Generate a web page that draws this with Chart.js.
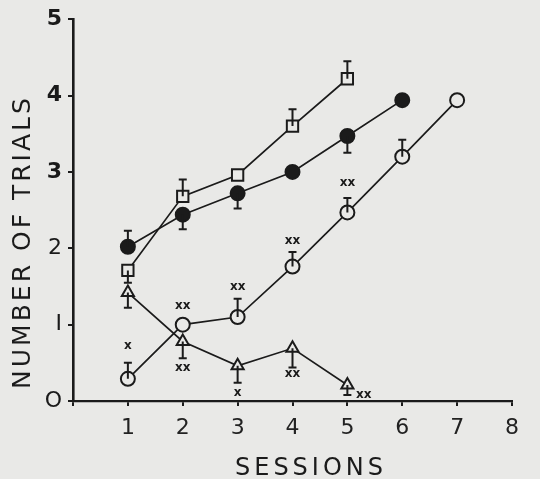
<!DOCTYPE html>
<html>
<head>
<meta charset="utf-8">
<script src="https://cdn.jsdelivr.net/npm/chart.js@4/dist/chart.umd.min.js"></script>
<style>
  html, body { margin: 0; padding: 0; background: #e9e9e7; }
  #wrap { width: 540px; height: 479px; }
</style>
</head>
<body>
<div id="wrap"><canvas id="chart" width="540" height="479"></canvas></div>
<script>
// sessions and means
const squareX = [1, 2, 3, 4, 5];
const squareY = [1.71, 2.68, 2.96, 3.6, 4.22];
const squareErr = [1.55, 2.9, null, 3.82, 4.45]; // tip of the one-sided error bar

const filledX = [1, 2, 3, 4, 5, 6];
const filledY = [2.02, 2.44, 2.72, 3.0, 3.47, 3.94];
const filledErr = [2.23, 2.25, 2.52, null, 3.25, null];

const openX = [1, 2, 3, 4, 5, 6, 7];
const openY = [0.29, 1.0, 1.1, 1.76, 2.47, 3.2, 3.94];
const openErr = [0.5, null, 1.34, 1.95, 2.66, 3.42, null];

const triX = [1, 2, 3, 4, 5];
const triY = [1.42, 0.78, 0.46, 0.69, 0.21];
const triErr = [1.22, 0.56, 0.24, 0.44, 0.08];

// significance marks
const sigX = [1, 2, 2, 3, 3, 4, 4, 5, 5.3];
const sigY = [0.72, 1.25, 0.44, 1.5, 0.11, 2.1, 0.36, 2.86, 0.08];
const sigText = ['x', 'xx', 'xx', 'xx', 'x', 'xx', 'xx', 'xx', 'xx'];

const xTicks = ['', '1', '2', '3', '4', '5', '6', '7', '8'];
const yTicks = ['O', 'I', '2', '3', '4', '5'];

const INK = '#1b1b1b';
const PAPER = '#e9e9e7';
const FONT = "'DejaVu Sans', sans-serif";

const pts = (xs, ys) => xs.map((x, i) => ({ x, y: ys[i] }));

function series(label, xs, ys, err, style, fill, radius) {
    return {
        label,
        data: pts(xs, ys),
        err,
        borderColor: INK,
        borderWidth: 1.7,
        pointStyle: style,
        pointRadius: radius,
        pointBorderWidth: 2,
        pointBorderColor: INK,
        pointBackgroundColor: fill,
        tension: 0,
        fill: false,
    };
}

/* one-sided error bars with a cap at the tip */
const errorBars = {
    id: 'errorBars',
    afterDatasetsDraw(chart) {
        const { ctx, scales: { x, y } } = chart;
        ctx.save();
        ctx.strokeStyle = INK;
        ctx.lineWidth = 2;
        chart.data.datasets.forEach((ds) => {
            ds.data.forEach((p, i) => {
                const tip = ds.err[i];
                if (tip == null) return;
                const px = x.getPixelForValue(p.x);
                const py = y.getPixelForValue(p.y);
                const ty = y.getPixelForValue(tip);
                ctx.beginPath();
                ctx.moveTo(px, py);
                ctx.lineTo(px, ty);
                ctx.moveTo(px - 4, ty);
                ctx.lineTo(px + 4, ty);
                ctx.stroke();
            });
        });
        ctx.restore();
    },
};

/* asterisk-style marks and axis titles */
const annotations = {
    id: 'annotations',
    afterDraw(chart) {
        const { ctx, scales: { x, y } } = chart;
        ctx.save();
        ctx.fillStyle = INK;
        ctx.textAlign = 'center';
        ctx.textBaseline = 'middle';
        ctx.font = `bold 12px ${FONT}`;
        sigText.forEach((t, i) => {
            ctx.fillText(t, x.getPixelForValue(sigX[i]), y.getPixelForValue(sigY[i]));
        });

        ctx.font = `24px ${FONT}`;
        ctx.letterSpacing = '4px';
        ctx.fillText('SESSIONS', 311, 469);

        ctx.translate(23, 242);
        ctx.rotate(-Math.PI / 2);
        ctx.font = `25px ${FONT}`;
        ctx.letterSpacing = '3px';
        ctx.fillText('NUMBER OF TRIALS', 0, 0);
        ctx.restore();
    },
};

new Chart(document.getElementById('chart'), {
    type: 'line',
    data: {
        datasets: [
            series('squares', squareX, squareY, squareErr, 'rect', PAPER, 8),
            series('filled', filledX, filledY, filledErr, 'circle', INK, 7),
            series('open', openX, openY, openErr, 'circle', PAPER, 7),
            series('triangles', triX, triY, triErr, 'triangle', PAPER, 7),
        ],
    },
    options: {
        responsive: false,
        animation: false,
        layout: { padding: { top: 18, right: 28, left: 0, bottom: 0 } },
        plugins: { legend: { display: false }, tooltip: { enabled: false } },
        scales: {
            x: {
                type: 'linear',
                min: 0,
                max: 8,
                afterFit: (s) => { s.height = 78; },
                border: { color: INK, width: 2.2 },
                grid: { drawOnChartArea: false, color: INK, tickLength: 5, lineWidth: 2 },
                ticks: {
                    stepSize: 1,
                    color: '#222',
                    padding: 9,
                    font: { family: FONT, size: 22 },
                    callback: (v) => xTicks[v],
                },
            },
            y: {
                min: 0,
                max: 5,
                afterFit: (s) => { s.width = 73; },
                border: { color: INK, width: 2.6 },
                grid: { drawOnChartArea: false, color: INK, tickLength: 5, lineWidth: 2 },
                ticks: {
                    stepSize: 1,
                    color: '#1a1a1a',
                    padding: 6,
                    font: (c) => ({ family: FONT, size: 22, weight: c.tick && c.tick.value >= 3 ? 'bold' : 'normal' }),
                    callback: (v) => yTicks[v],
                },
            },
        },
    },
    plugins: [errorBars, annotations],
});
</script>
</body>
</html>
